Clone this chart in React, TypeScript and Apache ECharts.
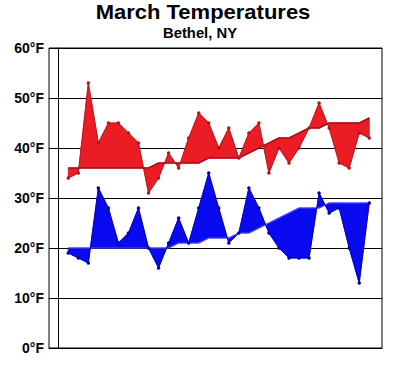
import React, { useEffect, useRef } from "react";
import * as echarts from "echarts";

const days = [1, 2, 3, 4, 5, 6, 7, 8, 9, 10, 11, 12, 13, 14, 15, 16, 17, 18, 19, 20, 21, 22, 23, 24, 25, 26, 27, 28, 29, 30, 31];
const actualHigh = [34, 35, 53, 41, 45, 45, 43, 41, 31, 34, 39, 36, 42, 47, 45, 40, 44, 38, 43, 45, 35, 40, 37, 40, 44, 49, 44, 37, 36, 43, 42];
const normalHigh = [36, 36, 36, 36, 36, 36, 36, 36, 36, 37, 37, 37, 37, 37, 38, 38, 38, 38, 39, 40, 41, 42, 42, 43, 44, 44, 45, 45, 45, 45, 46];
const actualLow = [19, 18, 17, 32, 28, 21, 23, 28, 20, 16, 21, 26, 21, 28, 35, 28, 21, 23, 32, 28, 23, 20, 18, 18, 18, 31, 27, 28, 20, 13, 29];
const normalLow = [20, 20, 20, 20, 20, 20, 20, 20, 20, 20, 20, 21, 21, 21, 22, 22, 22, 23, 23, 24, 25, 26, 27, 28, 28, 28, 29, 29, 29, 29, 29];
const yMin = 0;
const yMax = 60;
const yStep = 10;
const titleText = "March Temperatures";
const subtitleText = "Bethel, NY";

const FONT = '"Liberation Sans", Arial, sans-serif';

function bandSeries(actual: number[], normal: number[], fill: string, stroke: string) {
  return {
    type: "custom",
    coordinateSystem: "cartesian2d",
    data: days.map((d, i) => [d, actual[i], normal[i]]),
    encode: { x: 0, y: [1, 2] },
    silent: true,
    z: 2,
    renderItem: (params: any, api: any) => {
      if (params.dataIndex !== 0) return null;
      const pts: number[][] = [];
      days.forEach((d, i) => pts.push(api.coord([d, actual[i]])));
      for (let i = days.length - 1; i >= 0; i--) pts.push(api.coord([days[i], normal[i]]));
      return {
        type: "polygon",
        shape: { points: pts },
        style: { fill, stroke, lineWidth: 0.8 },
      };
    },
  };
}

function lineSeries(values: number[], color: string, width: number, markers: boolean) {
  return {
    type: "line",
    data: days.map((d, i) => [d, values[i]]),
    showSymbol: markers,
    symbol: "circle",
    symbolSize: 3.5,
    itemStyle: { color },
    lineStyle: { color, width },
    silent: true,
    z: 3,
  };
}

export default function App() {
  const ref = useRef<HTMLDivElement>(null);
  useEffect(() => {
    if (!ref.current) return;
    const chart = echarts.init(ref.current, undefined, { renderer: "svg" });
    chart.setOption({
      animation: false,
      backgroundColor: "#fff",
      graphic: [
        {
          type: "text",
          x: 203,
          y: 12,
          scaleX: 1.1,
          style: {
            text: titleText,
            fill: "#000",
            font: `bold 20px ${FONT}`,
            textAlign: "center",
            textVerticalAlign: "middle",
          },
        },
        {
          type: "text",
          x: 200,
          y: 33,
          scaleX: 1.06,
          style: {
            text: subtitleText,
            fill: "#000",
            font: `bold 14px ${FONT}`,
            textAlign: "center",
            textVerticalAlign: "middle",
          },
        },
      ],
      grid: {
        left: 49,
        top: 48,
        width: 333,
        height: 300,
        show: true,
        borderColor: "#000",
        borderWidth: 1,
        backgroundColor: "transparent",
      },
      xAxis: {
        type: "value",
        min: -0.92,
        max: 32.27,
        axisLabel: { show: false },
        axisTick: { show: false },
        splitLine: { show: false },
        axisLine: { show: true, lineStyle: { color: "#000", width: 1 } },
      },
      yAxis: {
        type: "value",
        min: yMin,
        max: yMax,
        interval: yStep,
        axisLabel: {
          formatter: "{value}°F",
          color: "#000",
          fontWeight: "bold",
          fontSize: 14,
          fontFamily: FONT,
          margin: 5,
        },
        axisTick: { show: false },
        axisLine: { show: true, lineStyle: { color: "#000", width: 1 } },
        splitLine: { show: true, lineStyle: { color: "#000", width: 1 } },
      },
      series: [
        bandSeries(actualHigh, normalHigh, "#ec1c24", "#c8141c"),
        bandSeries(actualLow, normalLow, "#0a0af0", "#0000c8"),
        lineSeries(normalHigh, "#a8101a", 1.5, false),
        lineSeries(actualHigh, "#b8141c", 0.8, true),
        lineSeries(normalLow, "#5050ff", 1.2, false),
        lineSeries(actualLow, "#0000b0", 0.8, true),
      ],
    });
    return () => chart.dispose();
  }, []);
  return (
    <div
      ref={ref}
      style={{ position: "fixed", left: 0, top: 0, width: 419, height: 387, background: "#fff" }}
    />
  );
}
